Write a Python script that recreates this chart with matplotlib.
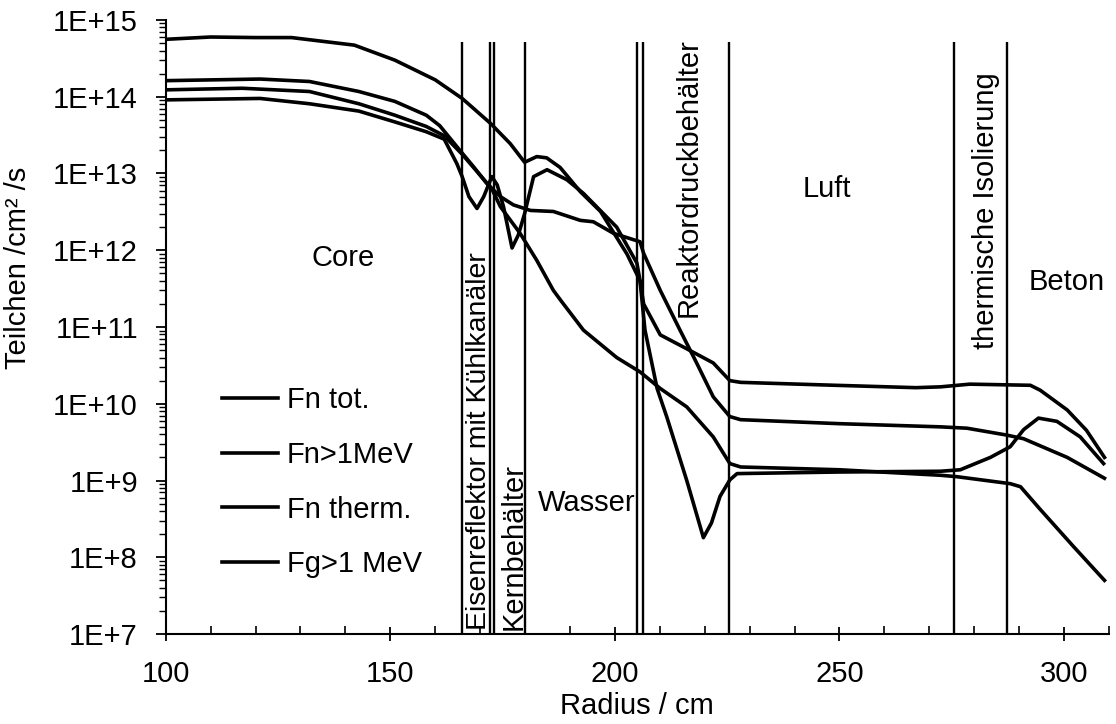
import numpy as np
import matplotlib
matplotlib.use("Agg")
from matplotlib import pyplot as plt
from matplotlib import ticker
from matplotlib.transforms import blended_transform_factory

plt.rcParams['font.family'] = ['Liberation Sans', 'DejaVu Sans']

# radius (cm) and flux (Teilchen/cm2/s)
r_tot = [100, 110, 120, 128, 142, 151, 160, 166, 172.3, 176.7, 179.9, 182.6, 184.8,
         187.8, 192.3, 196.8, 202.7, 205.6, 206.4, 210.1, 216, 221.9, 225.6, 228,
         249, 267, 272.5, 279, 292.5, 294.7, 300.7, 305, 309]
fn_tot = [5.6e14, 6.0e14, 5.9e14, 5.9e14, 4.7e14, 3.0e14, 1.66e14, 9.5e13, 4.5e13,
          2.45e13, 1.4e13, 1.66e13, 1.6e13, 1.2e13, 5.8e12, 3.2e12, 8.9e11, 4.0e11,
          2.0e11, 7.9e10, 5.2e10, 3.4e10, 2.0e10, 1.9e10, 1.74e10, 1.62e10, 1.66e10,
          1.8e10, 1.74e10, 1.5e10, 8.3e9, 4.5e9, 2.0e9]

r_fast = [100, 117, 132, 143, 151, 158, 162, 166, 170, 172.6, 174.5, 178.9, 182.6,
          186.3, 188, 193, 200.4, 205.6, 210.1, 216, 221.9, 225.6, 228, 250, 272.5,
          276.2, 288, 290.3, 294.7, 302.1, 309]
fn_fast = [1.23e14, 1.29e14, 1.17e14, 8.1e13, 5.75e13, 4.1e13, 3.1e13, 1.78e13, 9.5e12,
           6.3e12, 3.7e12, 1.66e12, 7.4e11, 3.0e11, 2.2e11, 9.1e10, 4.0e10, 2.6e10,
           1.58e10, 9.1e9, 3.7e9, 1.66e9, 1.5e9, 1.38e9, 1.17e9, 1.12e9, 9.1e8, 8.3e8,
           4.2e8, 1.38e8, 5.0e7]

r_therm = [100, 121, 132, 143, 151, 158, 162, 164.8, 166, 167.5, 169.3, 170.8, 172.6,
           173.8, 175.2, 177.1, 178.5, 179.9, 181.9, 184.9, 189.3, 193, 200.4, 204.9,
           205.6, 206.7, 209.4, 211.6, 216, 219, 219.7, 221.5, 223.4, 225.6, 227.2,
           250, 272.5, 276.9, 283.6, 288, 291, 294.3, 298.4, 303.6, 308.8]
fn_therm = [9.1e13, 9.5e13, 8.1e13, 6.5e13, 4.7e13, 3.5e13, 2.8e13, 1.35e13, 9.1e12,
            5.0e12, 3.5e12, 5.0e12, 9.1e12, 7.1e12, 3.7e12, 1.07e12, 1.58e12, 3.0e12,
            9.1e12, 1.12e13, 8.3e12, 5.5e12, 2.0e12, 6.8e11, 4.0e11, 9.1e10, 1.58e10,
            6.6e9, 1.0e9, 2.5e8, 1.8e8, 2.8e8, 6.2e8, 1.02e9, 1.23e9, 1.29e9, 1.32e9,
            1.38e9, 2.0e9, 2.75e9, 4.6e9, 6.5e9, 5.9e9, 3.7e9, 1.66e9]

r_gamma = [100, 121, 132, 143, 151, 158, 161, 165.5, 168.5, 171.5, 174.5, 177.4, 181.2,
           186.3, 192.3, 195.2, 199.7, 205.6, 206.4, 210.1, 214.5, 218.2, 221.9, 225.6,
           228, 250, 272.5, 278.4, 287.3, 291, 300.7, 309]
fg_gamma = [1.62e14, 1.7e14, 1.58e14, 1.17e14, 8.7e13, 5.75e13, 4.2e13, 2.0e13, 1.23e13,
            7.4e12, 5.0e12, 3.9e12, 3.3e12, 3.2e12, 2.45e12, 2.35e12, 1.66e12, 1.29e12,
            9.1e11, 3.0e11, 9.1e10, 3.4e10, 1.23e10, 6.8e9, 6.2e9, 5.5e9, 5.0e9, 4.8e9,
            3.9e9, 3.5e9, 2.0e9, 1.07e9]

# region boundaries
boundaries = [166, 172.2, 173.0, 179.9, 205.0, 206.2, 225.5, 275.4, 287.4]

labels = ['Fn tot.', 'Fn>1MeV', 'Fn therm.', 'Fg>1 MeV']

fig = plt.figure(figsize=(11.16, 7.24), dpi=100)
ax = fig.add_axes([0.1485, 0.1243, 0.8452, 0.8481])

lw = 2.6
h1, = ax.plot(r_tot, fn_tot, color='k', lw=lw, solid_joinstyle='round')
h2, = ax.plot(r_fast, fn_fast, color='k', lw=lw, solid_joinstyle='round')
h3, = ax.plot(r_therm, fn_therm, color='k', lw=lw, solid_joinstyle='round')
h4, = ax.plot(r_gamma, fg_gamma, color='k', lw=lw, solid_joinstyle='round')

ax.vlines(boundaries, 1e7, 5.2e14, color='k', lw=1.7)

ax.set_yscale('log')
ax.set_xlim(100, 310)
ax.set_ylim(1e7, 1e15)

for s in ['top', 'right']:
    ax.spines[s].set_visible(False)
for s in ['left', 'bottom']:
    ax.spines[s].set_linewidth(1.5)

decades = np.arange(7, 16)
ax.xaxis.set_major_locator(ticker.FixedLocator([100, 150, 200, 250, 300]))
ax.xaxis.set_minor_locator(ticker.FixedLocator(np.arange(100, 311, 10)))
ax.yaxis.set_major_locator(ticker.FixedLocator(10.0 ** decades))
ax.yaxis.set_minor_locator(ticker.FixedLocator(
    [m * 10.0 ** e for e in decades[:-1] for m in range(2, 10)]))
ax.yaxis.set_major_formatter(ticker.FixedFormatter(['1E+%d' % e for e in decades]))
ax.yaxis.set_minor_formatter(ticker.NullFormatter())

ax.tick_params(axis='x', which='major', direction='inout', length=9.5, width=1.3,
               labelsize=21, pad=14)
ax.tick_params(axis='x', which='minor', direction='in', length=6, width=1.2)
ax.tick_params(axis='y', which='major', direction='out', length=7, width=1.3,
               labelsize=21, pad=13)
ax.tick_params(axis='y', which='minor', direction='out', length=5, width=1.0)

ax.set_xlabel('Radius / cm', fontsize=21)
ax.xaxis.set_label_coords(0.5, -0.094)
ax.set_ylabel('Teilchen /cm² /s', fontsize=21)
ax.yaxis.set_label_coords(-0.1417, 0.596)

ax.text(139.4, 8e11, 'Core', fontsize=21, ha='center', va='center')
ax.text(247.1, 6.2e12, 'Luft', fontsize=21, ha='center', va='center')
ax.text(300.5, 3.9e11, 'Beton', fontsize=21, ha='center', va='center')
ax.text(193.8, 5.1e8, 'Wasser', fontsize=21, ha='center', va='center')

tr = blended_transform_factory(ax.transData, ax.transAxes)
ax.text(169.7, 0.006, 'Eisenreflektor mit Kühlkanäler', transform=tr, rotation=90,
        fontsize=20.5, ha='center', va='bottom')
ax.text(177.4, 0.006, 'Kernbehälter', transform=tr, rotation=90,
        fontsize=21, ha='center', va='bottom')
ax.text(216.4, 0.971, 'Reaktordruckbehälter', transform=tr, rotation=90,
        fontsize=21, ha='center', va='top')
ax.text(282.7, 0.915, 'thermische Isolierung', transform=tr, rotation=90,
        fontsize=21, ha='center', va='top')

ax.legend([h1, h2, h3, h4], labels, loc='upper left', bbox_to_anchor=(0.0597, 0.404),
          frameon=False, fontsize=21, handlelength=1.92, handletextpad=0.31,
          labelspacing=0.92, borderpad=0, borderaxespad=0)

fig.savefig('out.png', dpi=100)
